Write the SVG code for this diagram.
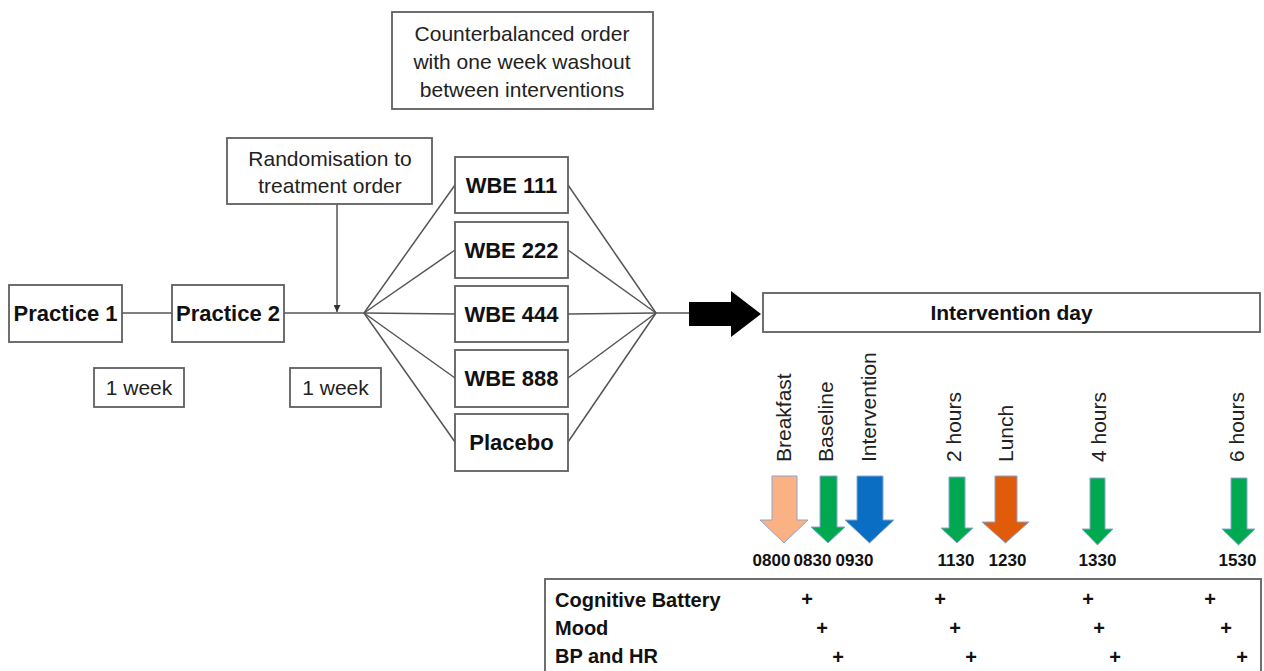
<svg xmlns="http://www.w3.org/2000/svg" width="1264" height="671" viewBox="0 0 1264 671">
<defs>
<style>
.box{fill:#fff;stroke:#5f5f5f;stroke-width:1.8}
.ln{stroke:#555;stroke-width:1.5;fill:none}
.t{font-family:"Liberation Sans",Arial,sans-serif;font-size:21px;fill:#222}
.b{font-family:"Liberation Sans",Arial,sans-serif;font-weight:bold;font-size:22px;fill:#111}
.tm{font-family:"Liberation Sans",Arial,sans-serif;font-weight:bold;font-size:17px;fill:#111}
.tb{font-family:"Liberation Sans",Arial,sans-serif;font-weight:bold;font-size:20px;fill:#111}
.pl{font-family:"Liberation Sans",Arial,sans-serif;font-weight:bold;font-size:20px;fill:#111;text-anchor:middle}
.v{font-family:"Liberation Sans",Arial,sans-serif;font-size:21px;fill:#222;dominant-baseline:central}
.ar{stroke:#8aa6d4;stroke-width:1}
</style>
<marker id="ah" viewBox="0 0 10 10" refX="10" refY="5" markerWidth="7" markerHeight="7" orient="auto" markerUnits="userSpaceOnUse"><path d="M0,0 L10,5 L0,10 z" fill="#333"/></marker>
</defs>
<rect width="1264" height="671" fill="#fff"/>

<g id="connectors">
<line class="ln" x1="122" y1="313" x2="172" y2="313"/>
<line class="ln" x1="284" y1="313" x2="364" y2="313"/>
<line class="ln" x1="337" y1="204" x2="337" y2="312" marker-end="url(#ah)"/>
<line class="ln" x1="364" y1="313" x2="455" y2="185"/>
<line class="ln" x1="364" y1="313" x2="455" y2="250"/>
<line class="ln" x1="364" y1="313" x2="455" y2="314"/>
<line class="ln" x1="364" y1="313" x2="455" y2="378"/>
<line class="ln" x1="364" y1="313" x2="455" y2="442"/>
<line class="ln" x1="568" y1="185" x2="656" y2="313"/>
<line class="ln" x1="568" y1="250" x2="656" y2="313"/>
<line class="ln" x1="568" y1="314" x2="656" y2="313"/>
<line class="ln" x1="568" y1="378" x2="656" y2="313"/>
<line class="ln" x1="568" y1="442" x2="656" y2="313"/>
<line class="ln" x1="656" y1="313" x2="690" y2="313"/>
<polygon id="big-arrow" points="689,302 731,302 731,291 761,314 731,337 731,326 689,326" fill="#000"/>
</g>

<g id="counterbalanced">
<rect class="box" x="392" y="12" width="261" height="97"/>
<text class="t" x="522" y="41" text-anchor="middle">Counterbalanced order</text>
<text class="t" x="522" y="69" text-anchor="middle">with one week washout</text>
<text class="t" x="522" y="97" text-anchor="middle">between interventions</text>
</g>

<g id="randomisation">
<rect class="box" x="227" y="138" width="205" height="66"/>
<text class="t" x="330" y="166" text-anchor="middle">Randomisation to</text>
<text class="t" x="330" y="193" text-anchor="middle">treatment order</text>
</g>

<g id="practice1">
<rect class="box" x="9" y="285" width="113" height="57"/>
<text class="b" x="65.5" y="321" text-anchor="middle">Practice 1</text>
</g>
<g id="practice2">
<rect class="box" x="172" y="285" width="112" height="57"/>
<text class="b" x="228" y="321" text-anchor="middle">Practice 2</text>
</g>

<g id="week1">
<rect class="box" x="94" y="368" width="90" height="39"/>
<text class="t" x="139" y="395" text-anchor="middle">1 week</text>
</g>
<g id="week2">
<rect class="box" x="290" y="368" width="91" height="39"/>
<text class="t" x="335.5" y="395" text-anchor="middle">1 week</text>
</g>

<g id="wbe111">
<rect class="box" x="455" y="157" width="113" height="56"/>
<text class="b" x="511.5" y="193" text-anchor="middle">WBE 111</text>
</g>
<g id="wbe222">
<rect class="box" x="455" y="222" width="113" height="56"/>
<text class="b" x="511.5" y="258" text-anchor="middle">WBE 222</text>
</g>
<g id="wbe444">
<rect class="box" x="455" y="286" width="113" height="56"/>
<text class="b" x="511.5" y="322" text-anchor="middle">WBE 444</text>
</g>
<g id="wbe888">
<rect class="box" x="455" y="350" width="113" height="57"/>
<text class="b" x="511.5" y="386" text-anchor="middle">WBE 888</text>
</g>
<g id="placebo">
<rect class="box" x="455" y="414" width="113" height="57"/>
<text class="b" x="511.5" y="450" text-anchor="middle">Placebo</text>
</g>

<g id="intervention-day">
<rect class="box" x="763" y="293" width="497" height="39"/>
<text class="tb" x="1011.5" y="320" text-anchor="middle" style="font-size:21px">Intervention day</text>
</g>

<g id="timeline-labels">
<text class="v" transform="translate(783,462) rotate(-90)">Breakfast</text>
<text class="v" transform="translate(825,462) rotate(-90)">Baseline</text>
<text class="v" transform="translate(868,462) rotate(-90)">Intervention</text>
<text class="v" transform="translate(953,462) rotate(-90)">2 hours</text>
<text class="v" transform="translate(1005,462) rotate(-90)">Lunch</text>
<text class="v" transform="translate(1098,462) rotate(-90)">4 hours</text>
<text class="v" transform="translate(1236,462) rotate(-90)">6 hours</text>
</g>

<g id="timeline-arrows">
<polygon class="ar" fill="#FAB184" points="772,476 797,476 797,520 808,520 784,543 760,520 772,520"/>
<polygon class="ar" fill="#00A84F" points="820,476 837,476 837,527 845,527 828,543 811,527 820,527"/>
<polygon class="ar" fill="#0A6FC2" points="857,476 883,476 883,520 894,520 869.5,543 845,520 857,520"/>
<polygon class="ar" fill="#00A84F" points="949,477 965,477 965,528 973,528 957,543 941,528 949,528"/>
<polygon class="ar" fill="#E05C0A" points="995,476 1017,476 1017,522 1029,522 1005.5,543 982,522 995,522"/>
<polygon class="ar" fill="#00A84F" points="1090,478 1105,478 1105,529 1113,529 1097.5,545 1082,529 1090,529"/>
<polygon class="ar" fill="#00A84F" points="1231,478 1247,478 1247,529 1255,529 1238.5,545 1222,529 1231,529"/>
</g>

<g id="times">
<text class="tm" x="771.5" y="566" text-anchor="middle">0800</text>
<text class="tm" x="812.5" y="566" text-anchor="middle">0830</text>
<text class="tm" x="854.5" y="566" text-anchor="middle">0930</text>
<text class="tm" x="956" y="566" text-anchor="middle">1130</text>
<text class="tm" x="1007.5" y="566" text-anchor="middle">1230</text>
<text class="tm" x="1097.5" y="566" text-anchor="middle">1330</text>
<text class="tm" x="1237.5" y="566" text-anchor="middle">1530</text>
</g>

<g id="measures-table">
<rect class="box" x="545" y="579" width="716" height="110"/>
<text class="tb" x="555" y="607">Cognitive Battery</text>
<text class="tb" x="555" y="635">Mood</text>
<text class="tb" x="555" y="663">BP and HR</text>
<text class="pl" x="807" y="606">+</text>
<text class="pl" x="940" y="606">+</text>
<text class="pl" x="1088" y="606">+</text>
<text class="pl" x="1210" y="606">+</text>
<text class="pl" x="822" y="635">+</text>
<text class="pl" x="955" y="635">+</text>
<text class="pl" x="1099" y="635">+</text>
<text class="pl" x="1226" y="635">+</text>
<text class="pl" x="838" y="664">+</text>
<text class="pl" x="971" y="664">+</text>
<text class="pl" x="1115" y="664">+</text>
<text class="pl" x="1242" y="664">+</text>
</g>
</svg>
